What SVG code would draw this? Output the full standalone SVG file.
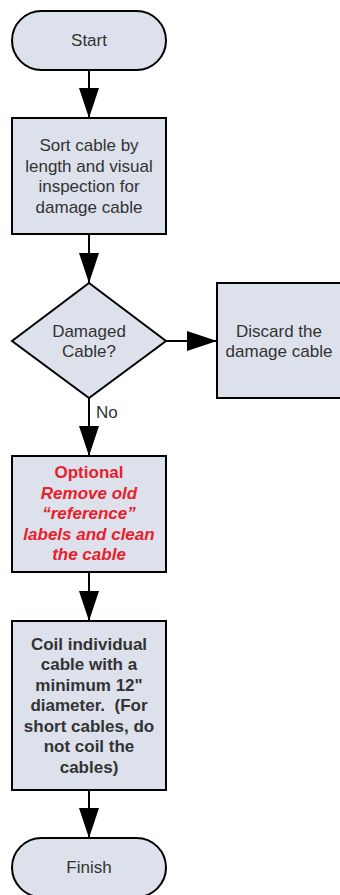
<svg xmlns="http://www.w3.org/2000/svg" width="340" height="895" viewBox="0 0 340 895">
  <style>
    .shape { fill: #DCE1EC; stroke: #000; stroke-width: 2; }
    .t { font-family: "Liberation Sans", Arial, sans-serif; font-size: 17px; fill: #333; text-anchor: middle; }
    .b { font-weight: bold; }
    .red { fill: #E8202A; font-weight: bold; }
    .conn { stroke: #000; stroke-width: 2; fill: none; marker-end: url(#arrow); }
  </style>
  <defs>
    <marker id="arrow" markerUnits="userSpaceOnUse" markerWidth="30" markerHeight="20" refX="30" refY="10" orient="auto">
      <path d="M0,0 L30,10 L0,20 z" fill="#000"/>
    </marker>
  </defs>
  <rect width="340" height="895" fill="#fff"/>

  <g id="connectors">
    <line class="conn" x1="89" y1="70" x2="89" y2="118"/>
    <line class="conn" x1="89" y1="234" x2="89" y2="283"/>
    <line class="conn" x1="166" y1="341" x2="217" y2="341"/>
    <line class="conn" x1="89" y1="398" x2="89" y2="456"/>
    <line class="conn" x1="89" y1="572" x2="89" y2="621"/>
    <line class="conn" x1="89" y1="790" x2="89" y2="838"/>
    <text class="t" x="96" y="418" style="text-anchor:start">No</text>
  </g>

  <g id="start">
    <rect class="shape" x="12" y="11" width="154" height="59" rx="29.5" ry="29.5"/>
    <text class="t" x="89" y="46">Start</text>
  </g>

  <g id="sort">
    <rect class="shape" x="12" y="118" width="154" height="116"/>
    <text class="t" x="89" y="151">Sort cable by</text>
    <text class="t" x="89" y="171.5">length and visual</text>
    <text class="t" x="89" y="192">inspection for</text>
    <text class="t" x="89" y="212.5">damage cable</text>
  </g>

  <g id="decision">
    <polygon class="shape" points="89,283 166,341 89,398 12,341"/>
    <text class="t" x="89" y="336.5">Damaged</text>
    <text class="t" x="89" y="357">Cable?</text>
  </g>

  <g id="discard">
    <rect class="shape" x="217" y="283" width="130" height="115"/>
    <text class="t" x="279" y="336.5">Discard the</text>
    <text class="t" x="279" y="357">damage cable</text>
  </g>

  <g id="optional">
    <rect class="shape" x="12" y="456" width="154" height="116"/>
    <text class="t red" x="89" y="478">Optional</text>
    <text class="t red" x="89" y="498.5" font-style="italic">Remove old</text>
    <text class="t red" x="89" y="519" font-style="italic">“reference”</text>
    <text class="t red" x="89" y="539.5" font-style="italic">labels and clean</text>
    <text class="t red" x="89" y="560" font-style="italic">the cable</text>
  </g>

  <g id="coil">
    <rect class="shape" x="12" y="621" width="154" height="169"/>
    <text class="t b" x="89" y="649.5">Coil individual</text>
    <text class="t b" x="89" y="670">cable with a</text>
    <text class="t b" x="89" y="690.5">minimum 12"</text>
    <text class="t b" x="89" y="711" xml:space="preserve">diameter.  (For</text>
    <text class="t b" x="89" y="731.5">short cables, do</text>
    <text class="t b" x="89" y="752">not coil the</text>
    <text class="t b" x="89" y="772.5">cables)</text>
  </g>

  <g id="finish">
    <rect class="shape" x="12" y="838" width="154" height="59" rx="29.5" ry="29.5"/>
    <text class="t" x="89" y="873">Finish</text>
  </g>
</svg>
